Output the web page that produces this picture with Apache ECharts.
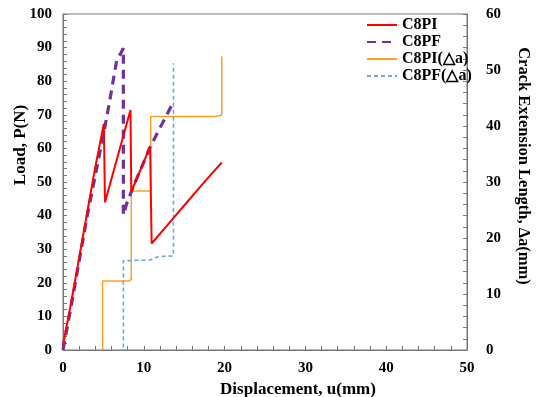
<!DOCTYPE html>
<html><head><meta charset="utf-8">
<script src="https://cdn.jsdelivr.net/npm/echarts@6/dist/echarts.min.js"></script>
<style>html,body{margin:0;padding:0;background:#fff}#c{width:538px;height:397px}</style>
</head><body><div id="c"></div>
<script>
const seriesNames = ['C8PI', 'C8PF', 'C8PI(△a)', 'C8PF(△a)'];
const xTicks = [0, 10, 20, 30, 40, 50];
// Load vs displacement [u(mm), P(N)]
const c8pi = [[0,1.5],[1,14],[2,27.5],[3,41],[4,54.5],[5.05,67.3],[5.2,44],[8.35,71.4],[8.45,47.1],[10.78,60.5],[10.97,31.7],[13,37.4],[15,43],[17,48.6],[18,51.4],[19.65,55.8]];
const c8pf = [[0,0],[1,13],[2,26.5],[3,40],[4,52],[5,64],[5.8,74.4],[6.65,86.3],[7.15,88.3],[7.47,89.8],[7.47,40.2],[7.9,43.7],[8.7,48.6],[10.8,60.5],[12.2,67],[13.47,72.9]];
// Crack extension vs displacement [u(mm), Δa(mm)]
const c8piDa = [[4.9,0],[4.9,12.3],[8.2,12.3],[8.25,12.6],[8.45,12.6],[8.45,28.4],[10.86,28.4],[10.86,41.7],[18.75,41.7],[18.8,41.9],[19.65,41.9],[19.65,52.4]];
const c8pfDa = [[6.9,0],[7.47,0],[7.47,15.95],[10.78,16.07],[11.8,16.7],[13.67,16.8],[13.67,51.2]];

const font = 'Liberation Serif';
const axisCol = '#777';
const tickLabel = {fontFamily: font, fontWeight: 'bold', fontSize: 15, color: '#000'};
const nameStyle = {fontFamily: font, fontWeight: 'bold', fontSize: 17, color: '#000'};
const chart = echarts.init(document.getElementById('c'));
chart.setOption({
  animation: false,
  grid: {left: 63, right: 71, top: 14, bottom: 47, show: true, borderColor: axisCol, borderWidth: 1,
    containLabel: false, outerBoundsMode: 'none'},
  legend: {
    orient: 'vertical', left: 361, top: 12, itemGap: 1, itemWidth: 30, itemHeight: 16,
    itemStyle: {opacity: 0},
    textStyle: {fontFamily: font, fontWeight: 'bold', fontSize: 16, color: '#000'},
    data: seriesNames
  },
  xAxis: {
    type: 'value', min: 0, max: 50, interval: 10,
    name: 'Displacement, u(mm)', nameLocation: 'middle', nameGap: 29,
    nameTextStyle: Object.assign({padding: [0, 0, 0, 66]}, nameStyle),
    axisLine: {lineStyle: {color: axisCol}},
    axisTick: {inside: true, length: 4, lineStyle: {color: axisCol}},
    minorTick: {show: true, splitNumber: 5, length: 4, lineStyle: {color: axisCol}},
    splitLine: {show: false},
    axisLabel: Object.assign({margin: 11, formatter: v => xTicks.includes(v) ? String(v) : ''}, tickLabel)
  },
  yAxis: [{
    type: 'value', min: 0, max: 100, interval: 10, position: 'left',
    name: 'Load, P(N)', nameLocation: 'middle', nameGap: 34, nameMoveOverlap: false,
    nameTextStyle: Object.assign({padding: [0, 0, 0, 74]}, nameStyle),
    axisLine: {show: true, lineStyle: {color: axisCol}},
    axisTick: {show: true, inside: true, length: 4, lineStyle: {color: axisCol}},
    minorTick: {show: true, splitNumber: 5, length: 4, lineStyle: {color: axisCol}},
    splitLine: {show: false},
    axisLabel: Object.assign({margin: 11}, tickLabel)
  }, {
    type: 'value', min: 0, max: 60, interval: 10, position: 'right',
    name: 'Crack Extension Length, Δa(mm)', nameLocation: 'middle', nameGap: 48, nameRotate: -90,
    nameTextStyle: Object.assign({padding: [0, 32, 0, 0]}, nameStyle, {fontSize: 16.5}),
    axisLine: {show: true, lineStyle: {color: axisCol}},
    axisTick: {show: true, inside: true, length: 4, lineStyle: {color: axisCol}},
    minorTick: {show: true, splitNumber: 5, length: 4, lineStyle: {color: axisCol}},
    splitLine: {show: false},
    axisLabel: Object.assign({margin: 19}, tickLabel)
  }],
  series: [
    {name: seriesNames[0], type: 'line', data: c8pi, yAxisIndex: 0, showSymbol: false, symbol: 'none',
      lineStyle: {color: '#ff0000', width: 2}, itemStyle: {color: '#ff0000'}, z: 4},
    {name: seriesNames[1], type: 'line', data: c8pf, yAxisIndex: 0, showSymbol: false, symbol: 'none',
      lineStyle: {color: '#7030a0', width: 3.2, type: [9, 6]}, itemStyle: {color: '#7030a0'}, z: 3},
    {name: seriesNames[2], type: 'line', data: c8piDa, yAxisIndex: 1, showSymbol: false, symbol: 'none',
      lineStyle: {color: '#ffa020', width: 1.5}, itemStyle: {color: '#ffa020'}, z: 2},
    {name: seriesNames[3], type: 'line', data: c8pfDa, yAxisIndex: 1, showSymbol: false, symbol: 'none',
      lineStyle: {color: '#6fa8dc', width: 1.6, type: [4, 3]}, itemStyle: {color: '#6fa8dc'}, z: 2}
  ]
});
</script></body></html>
